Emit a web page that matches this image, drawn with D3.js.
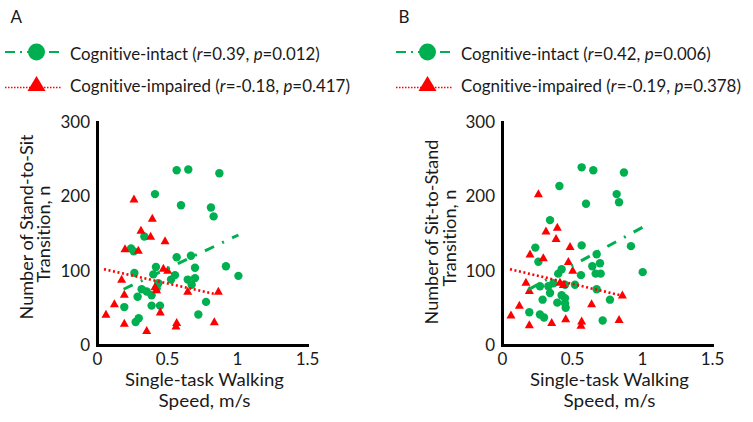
<!DOCTYPE html>
<html><head><meta charset="utf-8">
<script src="https://cdn.jsdelivr.net/npm/d3@7"></script>
<style>
body{margin:0;background:#fff}
svg{display:block}
text{font-family:Lato,"Open Sans",sans-serif;fill:#1a1a1a;white-space:pre;font-variant-ligatures:none;font-feature-settings:"liga" 0}
</style>
</head><body>
<svg id="c" width="753" height="422"></svg>
<script>
// ---------- data ----------
const xTicks = [0, 0.5, 1, 1.5];
const yTicks = [0, 100, 200, 300];

// Panel A: Stand-to-Sit
const speedIntactA = [0.569,0.652,0.874,0.414,0.600,0.814,0.833,0.338,0.243,0.262,0.569,0.671,0.921,1.010,0.421,0.700,0.267,0.402,0.557,0.529,0.648,0.700,0.676,0.438,0.319,0.355,0.390,0.290,0.426,0.195,0.390,0.450,0.779,0.724,0.276,0.298];
const countIntactA = [235,236,231,203,188,185,173,146,130,126,118,120,106,93,105,104,97,95,94,88,88,90,81,83,75,72,67,65,76,51,53,53,58,41,31,36];
const speedImpairedA = [0.264,0.395,0.314,0.383,0.486,0.200,0.295,0.474,0.505,0.176,0.414,0.426,0.648,0.867,0.195,0.124,0.064,0.452,0.195,0.355,0.569,0.564,0.838];
const countImpairedA = [196,170,154,146,140,129,127,103,100,88,78,74,72,72,68,55,41,44,29,19,30,25,31];
const trendIntactA = [[0.19,75],[1.01,148]];
const trendImpairedA = [[0.05,102],[0.845,68.5]];
const statsA = [["0.39","0.012"],["-0.18","0.417"]];

// Panel B: Sit-to-Stand
const speedIntactB = [0.569,0.652,0.871,0.410,0.819,0.836,0.600,0.343,0.238,0.260,0.569,0.676,0.700,0.645,0.669,0.705,0.564,0.426,0.402,0.367,0.450,0.521,0.271,0.331,0.343,0.676,0.426,0.290,0.450,0.395,0.450,0.455,0.771,0.195,0.271,0.300,0.719,0.921,1.005];
const countIntactB = [239,235,232,214,203,192,190,168,131,112,134,122,110,106,96,96,94,102,96,83,81,81,79,79,70,75,67,61,63,57,56,50,61,44,41,37,33,133,98];
const speedImpairedB = [0.260,0.395,0.314,0.386,0.486,0.200,0.295,0.474,0.505,0.171,0.414,0.438,0.195,0.860,0.640,0.124,0.064,0.455,0.195,0.355,0.569,0.564,0.836];
const countImpairedB = [203,158,153,143,132,122,117,112,100,84,84,81,73,67,55,53,40,35,27,30,32,26,34];
const trendIntactB = [[0.188,74.5],[1.01,159]];
const trendImpairedB = [[0.057,102],[0.867,66]];
const statsB = [["0.42","0.006"],["-0.19","0.378"]];

const panelLabels = ["A","B"];
const yTitles = [["Number of Stand-to-Sit","Transition, n"],["Number of Sit-to-Stand","Transition, n"]];
const xTitle = ["Single-task Walking","Speed, m/s"];
const groupNames = ["Cognitive-intact","Cognitive-impaired"];

// ---------- drawing ----------
const GREEN = "#00B050", RED = "#FF0000";
const svg = d3.select("#c");
const W = 210, H = 223, TOP = 122;
const x = d3.scaleLinear().domain([0,1.5]).range([0,W]);
const y = d3.scaleLinear().domain([0,300]).range([H,0]);
const tri = (w,h)=>`M0,${-h*0.6}L${w/2},${h*0.4}L${-w/2},${h*0.4}Z`;
const line = d3.line().x(d=>x(d[0])).y(d=>y(d[1]));

// text drawn at natural size, then scaled horizontally to the reference width
function fitted(parent, tx, ty, rot, anchor, size, target, build){
  const t = parent.append("text").attr("font-size",size).attr("text-anchor",anchor);
  build(t);
  const w = t.node().getComputedTextLength();
  const s = w > 0 ? target / w : 1;
  t.attr("transform",`translate(${tx},${ty})${rot?` rotate(${rot})`:""} scale(${s},1)`);
  return t;
}

const panels = [
  {ox:97, lx:0, yt:[[33,227],[50,234]], xi:speedIntactA, yi:countIntactA, xm:speedImpairedA, ym:countImpairedA, ti:trendIntactA, tm:trendImpairedA, st:statsA},
  {ox:502, lx:391, yt:[[438,232],[456,238]], xi:speedIntactB, yi:countIntactB, xm:speedImpairedB, ym:countImpairedB, ti:trendIntactB, tm:trendImpairedB, st:statsB}
];

panels.forEach((p,i)=>{
  // panel letter
  svg.append("text").attr("x",10.5+p.lx+(i?-3:0)).attr("y",22.5).attr("font-size",17).text(panelLabels[i]);

  // legend
  const lg = svg.append("g").attr("transform",`translate(${p.lx},0)`);
  lg.append("line").attr("x1",5).attr("x2",62).attr("y1",52).attr("y2",52)
    .attr("stroke",GREEN).attr("stroke-width",1.8).attr("stroke-dasharray","10,5,2,5");
  lg.append("circle").attr("cx",36.5).attr("cy",52).attr("r",8.5).attr("fill",GREEN);
  lg.append("line").attr("x1",5).attr("x2",62).attr("y1",87.5).attr("y2",87.5)
    .attr("stroke",RED).attr("stroke-width",1.4).attr("stroke-dasharray","1.5,1.5");
  lg.append("path").attr("d",tri(18,15)).attr("transform","translate(36.5,85)").attr("fill",RED);
  [[59.5,250],[91.5,280]].forEach(([by,len],k)=>{
    fitted(lg, 70, by, 0, "start", 18, len, t=>{
      t.append("tspan").text(groupNames[k]+" (");
      t.append("tspan").attr("font-style","italic").text("r");
      t.append("tspan").text("="+p.st[k][0]+", ");
      t.append("tspan").attr("font-style","italic").text("p");
      t.append("tspan").text("="+p.st[k][1]+")");
    });
  });

  const g = svg.append("g").attr("transform",`translate(${p.ox},${TOP})`);
  // points
  g.selectAll("circle.pt").data(d3.zip(p.xi,p.yi)).join("circle").attr("class","pt")
    .attr("cx",d=>x(d[0])).attr("cy",d=>y(d[1])).attr("r",4.2).attr("fill",GREEN);
  g.selectAll("path.tr").data(d3.zip(p.xm,p.ym)).join("path").attr("class","tr")
    .attr("d",tri(9,8)).attr("transform",d=>`translate(${x(d[0])},${y(d[1])})`).attr("fill",RED);
  // trend lines
  g.append("path").attr("d",line(p.ti)).attr("fill","none").attr("stroke",GREEN)
    .attr("stroke-width",3).attr("stroke-dasharray","10,9,2,9");
  g.append("path").attr("d",line(p.tm)).attr("fill","none").attr("stroke",RED)
    .attr("stroke-width",2.6).attr("stroke-dasharray","2,2.6");

  // axes
  const xa = g.append("g").attr("transform",`translate(0,${H})`)
    .call(d3.axisBottom(x).tickValues(xTicks).tickFormat(d=>String(d)).tickSize(0).tickSizeOuter(0).tickPadding(8));
  const ya = g.append("g")
    .call(d3.axisLeft(y).tickValues(yTicks).tickFormat(d=>String(d)).tickSize(0).tickSizeOuter(0).tickPadding(7));
  [xa,ya].forEach(a=>{
    a.select(".domain").attr("stroke","#000").attr("stroke-width",3).attr("stroke-linecap","square");
    a.selectAll("text").attr("font-size",17).attr("font-family","Lato, 'Open Sans', sans-serif").attr("fill","#1a1a1a");
  });

  // y title
  p.yt.forEach(([bx,cy],k)=>{
    fitted(svg, bx, cy, -90, "middle", 17.5, k===0?185:97, t=>t.text(yTitles[i][k]));
  });
  // x title
  [[385.5,159],[407,92]].forEach(([by,len],k)=>{
    fitted(svg, p.ox+107.5, by, 0, "middle", 17, len, t=>t.text(xTitle[k]));
  });
});
</script>
</body></html>
